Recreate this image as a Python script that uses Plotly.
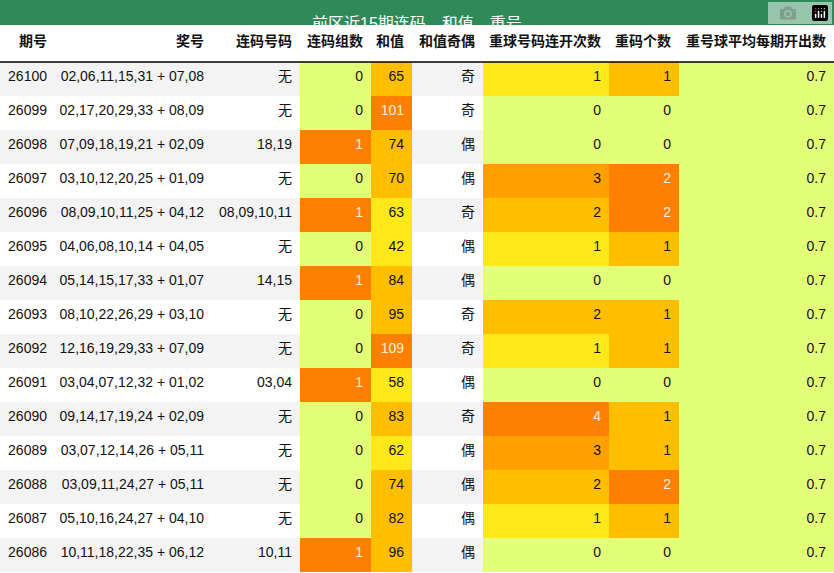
import plotly.graph_objects as go

periods = ["26100", "26099", "26098", "26097", "26096", "26095", "26094", "26093",
           "26092", "26091", "26090", "26089", "26088", "26087", "26086"]
draws = ["02,06,11,15,31 + 07,08", "02,17,20,29,33 + 08,09", "07,09,18,19,21 + 02,09",
         "03,10,12,20,25 + 01,09", "08,09,10,11,25 + 04,12", "04,06,08,10,14 + 04,05",
         "05,14,15,17,33 + 01,07", "08,10,22,26,29 + 03,10", "12,16,19,29,33 + 07,09",
         "03,04,07,12,32 + 01,02", "09,14,17,19,24 + 02,09", "03,07,12,14,26 + 05,11",
         "03,09,11,24,27 + 05,11", "05,10,16,24,27 + 04,10", "10,11,18,22,35 + 06,12"]
consec = ["无", "无", "18,19", "无", "08,09,10,11", "无", "14,15", "无", "无", "03,04",
          "无", "无", "无", "无", "10,11"]
consec_groups = [0, 0, 1, 0, 1, 0, 1, 0, 0, 1, 0, 0, 0, 0, 1]
sums = [65, 101, 74, 70, 63, 42, 84, 95, 109, 58, 83, 62, 74, 82, 96]
parity = ["奇", "奇", "偶", "偶", "奇", "偶", "偶", "奇", "奇", "偶", "奇", "偶", "偶", "偶", "偶"]
repeat_streak = [1, 0, 0, 3, 2, 1, 0, 2, 1, 0, 4, 3, 2, 1, 0]
repeat_count = [1, 0, 0, 2, 2, 1, 0, 1, 1, 0, 1, 1, 2, 1, 0]
avg_repeat = [0.7] * 15
headers = ["期号", "奖号", "连码号码", "连码组数", "和值", "和值奇偶",
           "重球号码连开次数", "重码个数", "重号球平均每期开出数"]
col_widths = [55, 157, 88, 71, 41, 71, 126, 70, 155]

GREEN, YELLOW, AMBER, ORANGE, DEEP = "#e3ff77", "#ffe81a", "#ffbf00", "#ffa000", "#ff8000"
LIGHT, DARK = "#fff0dc", "#111111"
FONT = "Liberation Sans, Noto Sans CJK SC"
stripe = ["#f3f3f3" if i % 2 == 0 else "#ffffff" for i in range(15)]


def sum_color(v):
    if v >= 100:
        return DEEP
    return AMBER if v >= 65 else YELLOW


streak_map = {0: GREEN, 1: YELLOW, 2: AMBER, 3: ORANGE, 4: DEEP}
count_map = {0: GREEN, 1: AMBER, 2: DEEP}

fills = [
    stripe, stripe, stripe,
    [DEEP if v else GREEN for v in consec_groups],
    [sum_color(v) for v in sums],
    stripe,
    [streak_map[v] for v in repeat_streak],
    [count_map[v] for v in repeat_count],
    [GREEN] * 15,
]
fcolors = [[LIGHT if c == DEEP else DARK for c in col] for col in fills]
draws_nb = [d.replace(" ", "\u00a0") for d in draws]

fig = go.Figure(go.Table(
    columnwidth=col_widths,
    domain=dict(x=[0, 1], y=[0, 548 / 573]),
    header=dict(values=[f"<b>{h}</b>" for h in headers], align="right", height=37,
                fill_color="white", line=dict(width=0),
                font=dict(family=FONT, size=14, color="#111")),
    cells=dict(values=[periods, draws_nb, consec, consec_groups, sums, parity,
                       repeat_streak, repeat_count, avg_repeat],
               align="right", height=34, fill_color=fills, line=dict(width=0),
               font=dict(family=FONT, size=14, color=fcolors)),
))
fig.add_shape(type="rect", xref="paper", yref="paper", x0=0, x1=1, y0=548 / 573, y1=1,
              fillcolor="#2e8b57", line_width=0, layer="above")
fig.add_shape(type="line", xref="paper", yref="paper", x0=0, x1=1,
              y0=(573 - 62) / 573, y1=(573 - 62) / 573, line=dict(color="black", width=1.5),
              layer="above")
fig.add_annotation(text="前区近15期连码，和值，重号", xref="paper", yref="paper", x=0.5,
                   y=1 - 12.5 / 573, showarrow=False,
                   font=dict(family=FONT, size=16, color="white"))
fig.update_layout(width=834, height=573, margin=dict(l=0, r=0, t=0, b=0),
                  paper_bgcolor="white")
fig.write_html("out.html", post_script="document.body.style.margin='0';")
